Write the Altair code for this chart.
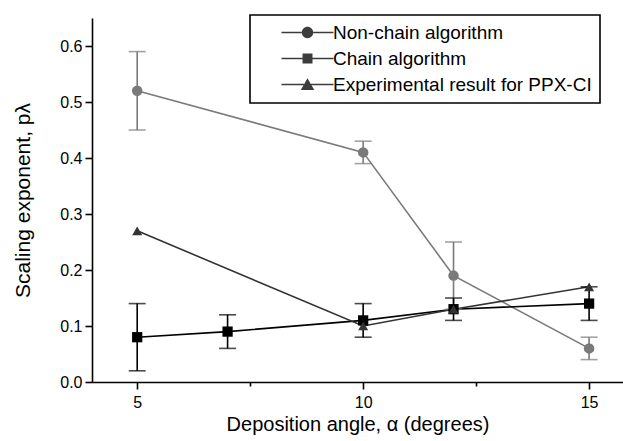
import altair as alt
import pandas as pd

series_names = ["Non-chain algorithm", "Chain algorithm", "Experimental result for PPX-CI"]

nc_angle = [5, 10, 12, 15]
nc_val = [0.52, 0.41, 0.19, 0.06]
nc_lo = [0.45, 0.39, 0.13, 0.04]
nc_hi = [0.59, 0.43, 0.25, 0.08]

ch_angle = [5, 7, 10, 12, 15]
ch_val = [0.08, 0.09, 0.11, 0.13, 0.14]
ch_lo = [0.02, 0.06, 0.08, 0.11, 0.11]
ch_hi = [0.14, 0.12, 0.14, 0.15, 0.17]

ex_angle = [5, 10, 12, 15]
ex_val = [0.27, 0.10, 0.13, 0.17]

x_ticks = [5, 7.5, 10, 12.5, 15]
y_ticks = [0.0, 0.05, 0.1, 0.15, 0.2, 0.25, 0.3, 0.35, 0.4, 0.45, 0.5, 0.55, 0.6]

colors = ["#707070", "#000000", "#333333"]
line_colors = ["#7a7a7a", "#000000", "#333333"]
shapes = ["circle", "square", "triangle-up"]
sizes = [110, 100, 150]

rows = []
for a, v, lo, hi in zip(nc_angle, nc_val, nc_lo, nc_hi):
    rows.append(dict(series=series_names[0], angle=a, value=v, lo=lo, hi=hi))
for a, v, lo, hi in zip(ch_angle, ch_val, ch_lo, ch_hi):
    rows.append(dict(series=series_names[1], angle=a, value=v, lo=lo, hi=hi))
for a, v in zip(ex_angle, ex_val):
    rows.append(dict(series=series_names[2], angle=a, value=v, lo=None, hi=None))
df = pd.DataFrame(rows)
df["legend_series"] = df["series"]

FONT = "Liberation Sans"

x_enc = alt.X(
    "angle:Q",
    scale=alt.Scale(domain=[4, 15.75], nice=False, zero=False),
    axis=alt.Axis(
        values=x_ticks,
        labelExpr="datum.value % 5 == 0 ? datum.label : ''",
        tickSize={"condition": {"test": "datum.value % 5 == 0", "value": 7}, "value": 4},
        title="Deposition angle, α (degrees)",
        grid=False,
        labelFontSize=16,
        titleFontSize=20,
        titleFontWeight="normal",
        labelPadding=5,
        titlePadding=4,
    ),
)
y_scale = alt.Scale(domain=[0, 0.65], nice=False, zero=True)
y_axis = alt.Axis(
    values=y_ticks,
    labelExpr="round(datum.value * 100) % 10 == 0 ? format(datum.value, '.1f') : ''",
    tickSize={"condition": {"test": "round(datum.value * 100) % 10 == 0", "value": 7}, "value": 4},
    title="Scaling exponent, pλ",
    grid=False,
    labelFontSize=16,
    titleFontSize=21,
    titleFontWeight="normal",
    labelPadding=3,
    titlePadding=26,
)

color_scale = alt.Scale(domain=series_names, range=colors)
line_scale = alt.Scale(domain=series_names, range=line_colors)

base = alt.Chart(df)

lines = base.mark_line(strokeWidth=1.6).encode(
    x=x_enc,
    y=alt.Y("value:Q", scale=y_scale, axis=y_axis),
    color=alt.Color("series:N", scale=line_scale, legend=None),
    detail="series:N",
)

err = base.transform_filter("isValid(datum.lo)").mark_rule(strokeWidth=1.6).encode(
    x=x_enc,
    y=alt.Y("lo:Q", scale=y_scale),
    y2="hi:Q",
    color=alt.Color("series:N", scale=line_scale, legend=None),
)

caps = base.transform_filter("isValid(datum.lo)").transform_fold(
    ["lo", "hi"], as_=["which", "cap"]
).mark_tick(orient="horizontal", size=17, thickness=1.6).encode(
    x=x_enc,
    y=alt.Y("cap:Q", scale=y_scale),
    color=alt.Color("series:N", scale=line_scale, legend=None),
)

points = base.mark_point(filled=True, opacity=1).encode(
    x=x_enc,
    y=alt.Y("value:Q", scale=y_scale),
    color=alt.Color("series:N", scale=color_scale, legend=None),
    shape=alt.Shape("series:N", scale=alt.Scale(domain=series_names, range=shapes), legend=None),
    size=alt.Size("series:N", scale=alt.Scale(domain=series_names, range=sizes), legend=None),
)

# legend symbols (filled only): a thin bar on each side of the marker; unit = 6px (size 144)
p_circle = ("M 2.33 -0.13 L 5.74 -0.13 L 5.74 0.13 L 2.33 0.13 Z "
            "M 7.6 -0.13 L 11 -0.13 L 11 0.13 L 7.6 0.13 Z "
            "M 5.72 0 A 0.95 0.95 0 1 0 7.62 0 A 0.95 0.95 0 1 0 5.72 0 Z")
p_square = ("M 2.33 -0.13 L 5.84 -0.13 L 5.84 0.13 L 2.33 0.13 Z "
            "M 7.5 -0.13 L 11 -0.13 L 11 0.13 L 7.5 0.13 Z "
            "M 5.84 -0.83 L 7.5 -0.83 L 7.5 0.83 L 5.84 0.83 Z")
p_tri = ("M 2.33 -0.13 L 6.08 -0.13 L 6.08 0.13 L 2.33 0.13 Z "
         "M 7.26 -0.13 L 11 -0.13 L 11 0.13 L 7.26 0.13 Z "
         "M 6.67 -1.05 L 7.8 0.9 L 5.54 0.9 Z")

legend = alt.Legend(
    title=None,
    orient="none",
    legendX=158,
    legendY=-3,
    padding=8,
    strokeColor="black",
    labelFont=FONT,
    labelFontSize=19,
    labelOffset=56,
    labelLimit=500,
    symbolSize=144,
    symbolStrokeWidth=1.6,
    symbolOpacity=1,
    rowPadding=6,
    labelExpr="datum.label + '\u00a0\u00a0\u00a0\u00a0\u00a0\u00a0\u00a0\u00a0'",
)

legend_layer = base.mark_point(filled=True, opacity=0, size=144, color="#3c3c3c").encode(
    x=x_enc,
    y=alt.Y("value:Q", scale=y_scale),
    shape=alt.Shape("legend_series:N", scale=alt.Scale(domain=series_names, range=[p_circle, p_square, p_tri]), legend=legend),
)

chart = alt.layer(lines, err, caps, points, legend_layer).resolve_scale(
    shape="independent", color="shared"
).properties(
    width=531,
    height=364,
    autosize=alt.AutoSizeParams(type="none"),
    padding={"left": 92, "top": 18, "right": 0, "bottom": 59},
    background="white",
).configure_view(stroke=None).configure_axis(
    domainColor="black",
    domainWidth=1.6,
    tickColor="black",
    tickWidth=1.6,
    labelColor="black",
    titleColor="black",
    labelFont=FONT,
    titleFont=FONT,
).configure_legend(strokeWidth=1.6)

chart.save("out.html", embed_options={"renderer": "svg", "actions": False})
